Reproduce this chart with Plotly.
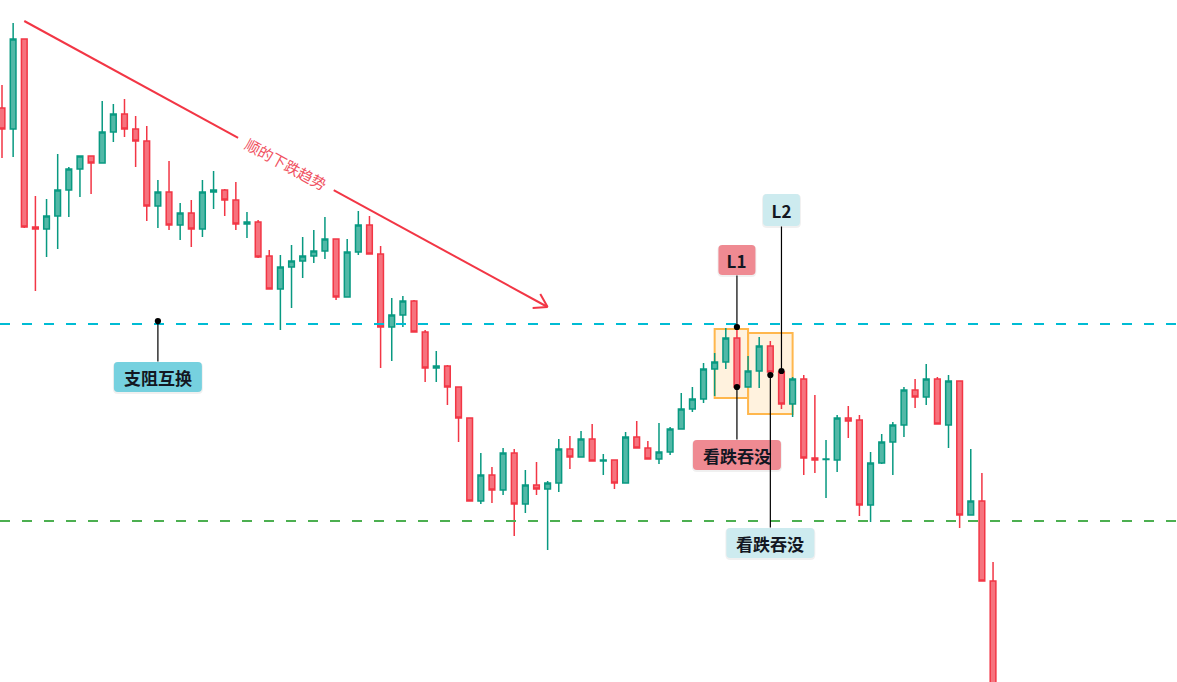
import math
import plotly.graph_objects as go

# ---- price data (level units, higher = higher price) ----
opens = [892, 871, 961, 773, 771, 784, 810, 831, 844, 837, 868, 886, 871, 859, 794, 808, 775, 787, 771, 808,
         810, 800, 776, 778, 744, 711, 733, 739, 744, 749, 761, 703, 748, 775, 746, 673, 685, 699, 668, 632,
         634, 613, 582, 499, 525, 510, 547, 496, 515, 511, 517, 551, 543, 561, 539, 540, 517, 563, 552, 541,
         548, 571, 591, 601, 631, 638, 662, 613, 629, 654, 628, 596, 621, 542, 540.5, 540, 582, 580, 495, 537,
         558, 575, 610, 603, 621, 575, 619, 485, 499, 419]
highs = [915, 977, 961, 804, 801, 846, 833, 844, 844, 899, 896, 901, 884, 874, 820, 839, 797, 800, 820, 829,
         811, 818, 788, 780, 750, 745, 755, 763, 770, 783, 761, 761, 789, 784, 754, 702, 704, 700, 670, 649,
         635, 613, 582, 547, 533, 552, 551, 530, 538, 519, 561, 564, 569, 576, 546, 540, 568, 579, 559, 577,
         573, 607, 613, 637, 647, 672, 673, 644, 663, 659, 631, 623, 625, 605, 560, 585, 594, 585, 548, 566,
         578, 613, 621, 636, 623, 625, 619, 551, 527, 438]
lows = [842, 843, 772, 709, 743, 751, 783, 803, 806, 837, 858, 863, 833, 779, 772, 770, 760, 753, 763, 791,
        784, 770, 762, 742, 711, 670, 692, 722, 737, 741, 700, 703, 745, 746, 632, 639, 673, 668, 618, 618,
        595, 558, 499, 496, 497, 505, 464, 487, 505, 450, 508, 531, 543, 539, 525, 511, 517, 552, 541, 536,
        545, 571, 588, 597, 604, 631, 610, 613, 612, 628, 591, 583, 525, 527, 502, 528, 562, 484, 478, 536,
        525, 563, 592, 595, 576, 552, 472, 485, 419, 280]
closes = [871, 961, 773, 771, 784, 810, 831, 844, 837, 868, 886, 871, 859, 794, 808, 775, 787, 771, 808, 810,
          800, 776, 778, 743, 711, 733, 739, 744, 749, 761, 703, 748, 775, 746, 673, 685, 699, 668, 632, 634,
          613, 582, 499, 525, 510, 547, 496, 515, 511, 517, 551, 543, 561, 539, 540, 517, 563, 552, 541, 548,
          571, 591, 601, 631, 638, 662, 613, 629, 654, 628, 596, 621, 542, 540, 541, 582, 579, 495, 537, 558,
          575, 610, 603, 621, 576, 619, 485, 499, 419, 280]
bars = list(range(len(opens)))

# ---- annotation anchors (bar index, level) ----
trend_start = (2, 979)
trend_end = (49, 693)
trend_label = "顺的下跌趋势"
trend_label_bar = 25.46
support_level = 676
floor_level = 479
zone1 = (64, 67, 602, 671)
zone2 = (67, 71, 586, 667)

# callouts: anchor point, label text, label offset (px, down positive), box size, colour
callouts = [
    ((14, 679), "支阻互换", 56, (88, 30), "#76D1DF"),
    ((66, 673), "L1", -67, (37, 30), "#EF8A92"),
    ((66, 613), "看跌吞没", 68, (88, 30), "#EF8A92"),
    ((70, 629), "L2", -161, (37, 32), "#CDEBEF"),
    ((69, 625), "看跌吞没", 168, (88, 30), "#CDEBEF"),
]

W, H = 1177, 682
X_RANGE = [-0.18, 105.52]
Y_RANGE = [1000 - H, 1000]
px_x = W / (X_RANGE[1] - X_RANGE[0])
px_y = H / (Y_RANGE[1] - Y_RANGE[0])

RED = "#F23645"
GREEN = "#089981"

fig = go.Figure(go.Candlestick(
    x=bars, open=opens, high=highs, low=lows, close=closes,
    increasing=dict(line=dict(color=GREEN, width=1.5), fillcolor="#52B8A7"),
    decreasing=dict(line=dict(color=RED, width=1.5), fillcolor="#F6737E"),
    whiskerwidth=0, showlegend=False, hoverinfo="skip",
))

shapes = []
# pattern zones
for (x0, x1, y0, y1) in (zone1, zone2):
    shapes.append(dict(type="rect", xref="x", yref="y", x0=x0, x1=x1, y0=y0, y1=y1,
                       line=dict(color="#FFB74D", width=2), fillcolor="rgba(255,152,0,0.13)",
                       layer="below"))
# horizontal levels
shapes.append(dict(type="line", xref="paper", yref="y", x0=0, x1=1, y0=support_level, y1=support_level,
                   line=dict(color="#00BCD4", width=2, dash="10px,12px")))
shapes.append(dict(type="line", xref="paper", yref="y", x0=0, x1=1, y0=floor_level, y1=floor_level,
                   line=dict(color="#4CAF50", width=2, dash="10px,12px")))
# trend line with open arrowhead
shapes.append(dict(type="line", xref="x", yref="y", x0=trend_start[0], y0=trend_start[1],
                   x1=trend_end[0], y1=trend_end[1], line=dict(color=RED, width=2)))
dxp = (trend_end[0] - trend_start[0]) * px_x
dyp = (trend_end[1] - trend_start[1]) * px_y
ang = math.atan2(dyp, dxp)
for da in (math.radians(32), -math.radians(32)):
    a = ang + math.pi + da
    hx = trend_end[0] + 15 * math.cos(a) / px_x
    hy = trend_end[1] + 15 * math.sin(a) / px_y
    shapes.append(dict(type="line", xref="x", yref="y", x0=trend_end[0], y0=trend_end[1],
                       x1=hx, y1=hy, line=dict(color=RED, width=2)))


def rounded_box(cx, cy, w, h, r):
    """SVG path of a rounded rectangle in pixel offsets (y up)."""
    l, rt, b, t = cx - w / 2, cx + w / 2, cy - h / 2, cy + h / 2
    return (f"M{l + r},{b} L{rt - r},{b} Q{rt},{b} {rt},{b + r} L{rt},{t - r} Q{rt},{t} {rt - r},{t} "
            f"L{l + r},{t} Q{l},{t} {l},{t - r} L{l},{b + r} Q{l},{b} {l + r},{b} Z")


mid_y = trend_start[1] + (trend_end[1] - trend_start[1]) * (trend_label_bar - trend_start[0]) / (trend_end[0] - trend_start[0])
annotations = [
    dict(x=trend_label_bar, y=mid_y, xref="x", yref="y", text=trend_label, showarrow=False,
         textangle=-math.degrees(ang), bgcolor="white", borderpad=9,
         font=dict(family="Noto Sans CJK SC", size=15, color="#F0505E")),
]

LABEL_FONT = dict(family="Noto Sans CJK SC", size=17, color="#131722", weight="bold")

for (pt, text, ay, (bw, bh), bg) in callouts:
    # soft shadow then rounded label plate
    shapes.append(dict(type="path", xref="x", yref="y", xsizemode="pixel", ysizemode="pixel",
                       xanchor=pt[0], yanchor=pt[1], path=rounded_box(0, -ay - 1, bw + 2, bh + 2, 5),
                       fillcolor="rgba(0,0,0,0.06)", line=dict(width=0)))
    shapes.append(dict(type="path", xref="x", yref="y", xsizemode="pixel", ysizemode="pixel",
                       xanchor=pt[0], yanchor=pt[1], path=rounded_box(0, -ay, bw, bh, 4),
                       fillcolor=bg, line=dict(width=0)))
    annotations.append(dict(x=pt[0], y=pt[1], xref="x", yref="y", text=text, showarrow=True,
                            ax=0, ay=ay, arrowhead=6, arrowsize=1.3, arrowwidth=1.2, arrowcolor="black",
                            standoff=0, width=bw, height=bh, borderpad=0, font=LABEL_FONT))

fig.update_layout(
    width=W, height=H, margin=dict(l=0, r=0, t=0, b=0, pad=0),
    paper_bgcolor="white", plot_bgcolor="white", boxgap=0.27,
    xaxis=dict(range=X_RANGE, visible=False, showgrid=False, zeroline=False, rangeslider=dict(visible=False)),
    yaxis=dict(range=Y_RANGE, visible=False, showgrid=False, zeroline=False),
    shapes=shapes, annotations=annotations, showlegend=False,
)

fig.write_html("out.html")
